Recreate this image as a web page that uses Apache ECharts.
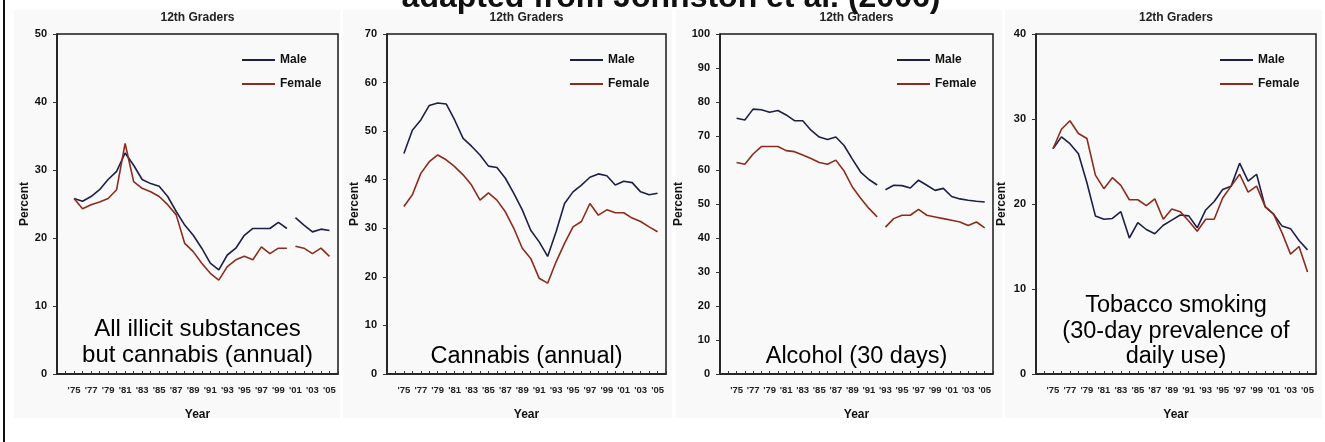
<!DOCTYPE html>
<html>
<head>
<meta charset="utf-8">
<script src="https://cdn.jsdelivr.net/npm/echarts@6/dist/echarts.min.js"></script>
<style>
  html, body { margin: 0; padding: 0; background: #ffffff; }
  #chart { width: 1325px; height: 442px; }
</style>
</head>
<body>
<div id="chart"></div>
<script>
// Survey years shared by every panel
const years = [1975, 1976, 1977, 1978, 1979, 1980, 1981, 1982, 1983, 1984, 1985, 1986, 1987, 1988, 1989, 1990,
               1991, 1992, 1993, 1994, 1995, 1996, 1997, 1998, 1999, 2000, 2001, 2002, 2003, 2004, 2005];

// All illicit substances but cannabis, annual prevalence (%)
const illicitMale   = [25.8, 25.4, 26.1, 27.1, 28.6, 29.8, 32.5, 30.7, 28.6, 28.0, 27.6, 26.1, 23.9, 21.9, 20.4, 18.5,
                       16.3, 15.3, 17.5, 18.5, 20.4, 21.4, 21.4, 21.4, 22.3, 21.4, 23.0, 21.9, 20.9, 21.3, 21.1];
const illicitFemale = [25.8, 24.3, 24.9, 25.3, 25.8, 27.1, 33.9, 28.3, 27.3, 26.8, 26.1, 24.9, 23.4, 19.2, 18.0, 16.3,
                       14.8, 13.8, 15.8, 16.8, 17.3, 16.8, 18.7, 17.7, 18.5, 18.5, 18.8, 18.5, 17.7, 18.5, 17.3];

// Cannabis, annual prevalence (%)
const cannabisMale   = [45.4, 50.2, 52.3, 55.3, 55.8, 55.6, 52.3, 48.5, 46.9, 45.1, 42.8, 42.5, 40.3, 37.2, 33.8, 29.6,
                        27.2, 24.2, 29.3, 35.1, 37.5, 38.9, 40.5, 41.2, 40.8, 38.9, 39.7, 39.4, 37.5, 36.9, 37.2];
const cannabisFemale = [34.5, 36.9, 41.3, 43.7, 45.1, 44.1, 42.7, 41.0, 38.9, 35.8, 37.3, 35.8, 33.4, 30.0, 25.9, 23.8,
                        19.7, 18.7, 23.1, 26.9, 30.3, 31.4, 35.1, 32.7, 33.8, 33.2, 33.2, 32.1, 31.4, 30.3, 29.3];

// Alcohol, 30-day prevalence (%)
const alcoholMale   = [75.2, 74.7, 77.9, 77.7, 77.0, 77.5, 76.2, 74.5, 74.5, 71.7, 69.7, 69.0, 69.7, 67.2, 63.2, 59.4,
                       57.2, 55.6, 54.2, 55.5, 55.4, 54.7, 57.0, 55.5, 54.0, 54.6, 52.2, 51.5, 51.1, 50.8, 50.6];
const alcoholFemale = [62.2, 61.7, 64.7, 66.9, 66.9, 66.9, 65.7, 65.4, 64.4, 63.4, 62.2, 61.7, 62.9, 59.7, 55.0, 51.7,
                       48.7, 46.2, 43.2, 45.7, 46.7, 46.7, 48.4, 46.7, 46.2, 45.7, 45.2, 44.7, 43.7, 44.7, 43.0];

// Tobacco smoking, 30-day prevalence of daily use (%)
const tobaccoMale   = [26.5, 27.9, 27.1, 25.9, 22.5, 18.6, 18.2, 18.3, 19.1, 16.0, 17.8, 17.0, 16.5, 17.5, 18.1, 18.7,
                       18.6, 17.2, 19.3, 20.3, 21.7, 22.1, 24.8, 22.7, 23.5, 19.7, 18.8, 17.4, 17.1, 15.7, 14.6];
const tobaccoFemale = [26.5, 28.8, 29.8, 28.3, 27.7, 23.4, 21.8, 23.1, 22.2, 20.5, 20.5, 19.8, 20.6, 18.2, 19.4, 19.1,
                       18.0, 16.8, 18.2, 18.2, 20.7, 22.1, 23.5, 21.4, 22.1, 19.7, 18.8, 16.6, 14.1, 15.0, 12.0];

// Axis ranges and series breaks (questionnaire wording changed after these years)
const yMax       = [50, 70, 100, 40];
const breakAfter = [2000, null, 1992, null];

const panelTitle = '12th Graders';
const seriesNames = ['Male', 'Female'];
const headline = 'adapted from Johnston et al. (2006)';
const captions = [
  ['All illicit substances', 'but cannabis (annual)'],
  ['Cannabis (annual)'],
  ['Alcohol (30 days)'],
  ['Tobacco smoking', '(30-day prevalence of', 'daily use)']
];

const maleColor = '#1c2048';
const femaleColor = '#8c2c1e';
const FONT = '"Liberation Sans", Arial, sans-serif';

const panelData = [
  [illicitMale, illicitFemale],
  [cannabisMale, cannabisFemale],
  [alcoholMale, alcoholFemale],
  [tobaccoMale, tobaccoFemale]
];

// Layout of the four plot boxes
const boxes = [
  { left: 57,   width: 281, nameGap: 24, captionSize: 24 },
  { left: 387,  width: 279, nameGap: 24, captionSize: 23.5 },
  { left: 720,  width: 273, nameGap: 35, captionSize: 23.5 },
  { left: 1036, width: 280, nameGap: 28, captionSize: 23.5 }
];
const boxTop = 34, boxHeight = 340;
const captionY = [[329, 355], [357], [357], [306, 332, 357]];

const chart = echarts.init(document.getElementById('chart'), null, { renderer: 'canvas' });

const grids = [], xAxes = [], yAxes = [], series = [], legends = [], graphics = [];

// faint backdrop panels and the left frame rule
const backdrops = [[14, 340], [343, 672], [676, 1002], [1005, 1322]];
backdrops.forEach(([x0, x1]) => {
  graphics.push({ type: 'rect', z: -10, silent: true,
    shape: { x: x0, y: 10, width: x1 - x0, height: 408 },
    style: { fill: '#f9f9f9' } });
});
graphics.push({ type: 'line', silent: true, shape: { x1: 4, y1: 0, x2: 4, y2: 442 },
  style: { stroke: '#111', lineWidth: 2 } });

// headline cut by the top edge
graphics.push({ type: 'text', silent: true, style: {
  text: headline, x: 671, y: -2, font: 'bold 32px ' + FONT, fill: '#111',
  textAlign: 'center', textVerticalAlign: 'middle' } });

boxes.forEach((b, i) => {
  grids.push({ left: b.left, top: boxTop, width: b.width, height: boxHeight,
    show: true, borderColor: '#1a1a1a', borderWidth: 1.5, backgroundColor: 'transparent' });

  xAxes.push({
    type: 'value', gridIndex: i, min: 1973, max: 2006, interval: 1,
    name: 'Year', nameLocation: 'middle', nameGap: 35,
    nameTextStyle: { fontFamily: FONT, fontSize: 12, fontWeight: 'bold', color: '#111' },
    axisLine: { show: true, onZero: false, lineStyle: { color: '#1a1a1a', width: 1.5 } },
    axisTick: { show: true, inside: true, length: 3, lineStyle: { color: '#333', width: 1 } },
    splitLine: { show: false },
    axisLabel: {
      margin: 11, fontFamily: FONT, fontSize: 9.5, fontWeight: 'bold', color: '#222',
      formatter: v => (v >= 1975 && v <= 2005 && v % 2 === 1) ? "'" + String(v).slice(2) : ''
    }
  });

  yAxes.push({
    type: 'value', gridIndex: i, min: 0, max: yMax[i], interval: 10,
    name: 'Percent', nameLocation: 'middle', nameGap: b.nameGap, nameRotate: 90,
    nameTextStyle: { fontFamily: FONT, fontSize: 12, fontWeight: 'bold', color: '#111' },
    axisLine: { show: true, lineStyle: { color: '#1a1a1a', width: 1.5 } },
    axisTick: { show: true, inside: false, length: 4, lineStyle: { color: '#333', width: 1 } },
    splitLine: { show: false },
    axisLabel: { margin: 10, fontFamily: FONT, fontSize: 11, fontWeight: 'bold', color: '#111' }
  });

  // Male / Female lines, split where the series is interrupted
  const cut = breakAfter[i];
  panelData[i].forEach((vals, s) => {
    const pts = years.map((y, k) => [y, vals[k]]);
    const segs = cut ? [pts.filter(p => p[0] <= cut), pts.filter(p => p[0] > cut)] : [pts];
    segs.forEach(seg => {
      series.push({
        type: 'line', name: seriesNames[s], xAxisIndex: i, yAxisIndex: i,
        data: seg, symbol: 'none', showSymbol: false, smooth: false,
        lineStyle: { color: s === 0 ? maleColor : femaleColor, width: 1.6 },
        itemStyle: { color: s === 0 ? maleColor : femaleColor },
        emphasis: { disabled: true }, animation: false
      });
    });
  });

  legends.push({
    data: seriesNames, orient: 'vertical', left: b.left + b.width - 97, top: 54,
    padding: 0, itemWidth: 33, itemHeight: 14, itemGap: 12, selectedMode: false,
    itemStyle: { opacity: 0 },
    textStyle: { fontFamily: FONT, fontSize: 12, fontWeight: 'bold', color: '#111' }
  });

  const cx = b.left + b.width / 2;
  graphics.push({ type: 'text', silent: true, style: {
    text: panelTitle, x: cx, y: 18, font: 'bold 12px ' + FONT, fill: '#222',
    textAlign: 'center', textVerticalAlign: 'middle' } });

  captions[i].forEach((line, k) => {
    graphics.push({ type: 'text', silent: true, style: {
      text: line, x: cx, y: captionY[i][k], font: b.captionSize + 'px ' + FONT, fill: '#000',
      textAlign: 'center', textVerticalAlign: 'middle' } });
  });
});

chart.setOption({
  animation: false,
  backgroundColor: '#ffffff',
  grid: grids,
  xAxis: xAxes,
  yAxis: yAxes,
  legend: legends,
  series: series,
  graphic: graphics
});
</script>
</body>
</html>
